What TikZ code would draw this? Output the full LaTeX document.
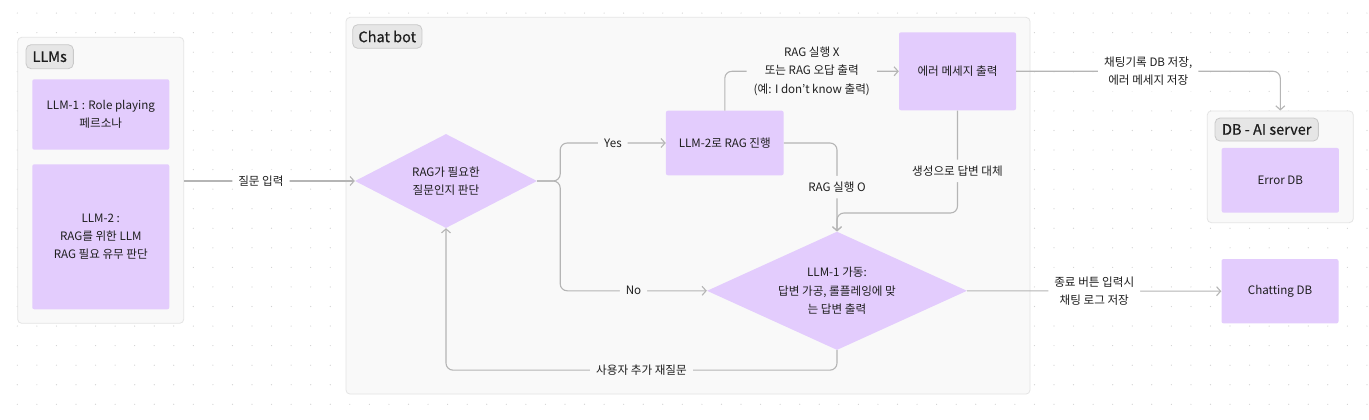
\documentclass[tikz,border=0pt]{standalone}
\usepackage{fontspec}
\setmainfont{Noto Sans CJK KR}
\newfontfamily\tagfont[FakeBold=0.5]{Noto Sans CJK KR}
\usetikzlibrary{shapes.geometric,arrows.meta}
\definecolor{lav}{HTML}{E3CCFD}
\definecolor{contbg}{HTML}{F9F9F9}
\definecolor{contbd}{HTML}{E4E4E4}
\definecolor{tagbg}{HTML}{E6E6E6}
\definecolor{tagbd}{HTML}{C9C9C9}
\definecolor{linec}{HTML}{B5B5B5}
\definecolor{txt}{HTML}{1E1E1E}
\definecolor{dotc}{HTML}{D0D0D0}
\begin{document}
\begin{tikzpicture}[x=1pt,y=-1pt,
  font=\fontsize{11.6}{18.3}\selectfont, text=txt,
  cont/.style={draw=contbd, fill=contbg, rounded corners=4pt, line width=0.8pt, inner sep=0},
  tagbox/.style={draw=tagbd, fill=tagbg, rounded corners=5pt, line width=0.8pt, inner sep=0, font=\tagfont\fontsize{14.5}{16}\selectfont},
  box/.style={fill=lav, rounded corners=2pt, inner sep=0, align=center},
  dia/.style={diamond, fill=lav, inner sep=0},
  conn/.style={draw=linec, line width=1.1pt, rounded corners=7pt, -{Straight Barb[length=4pt,width=9pt]}},
  lbl/.style={fill=contbg, inner sep=6pt, align=center, text=txt},
  lblw/.style={fill=white, inner sep=6pt, align=center, text=txt}]
\useasboundingbox (0,0) rectangle (1369,420);
\fill[white] (0,0) rectangle (1369,420);
% dot grid
\foreach \i in {0,...,69} {
  \foreach \j in {0,...,20} {
    \fill[dotc] (17.3+\i*19.56, 13.1+\j*19.56) circle (0.6pt);
  }
}
% containers
\node[cont, minimum width=166pt, minimum height=286pt] (llms) at (100.7,180.3) {};
\node[tagbox, minimum width=47.3pt, minimum height=24pt] (llmstag) at (49.7,56.7) {LLMs};
\node[box, minimum width=137pt, minimum height=70.4pt] (llm1) at (100.8,114.5) {LLM-1 : Role playing\\페르소나};
\node[box, minimum width=137pt, minimum height=145pt] (llm2) at (100.8,236.8) {LLM-2 :\\RAG를 위한 LLM\\RAG 필요 유무 판단};

\node[cont, minimum width=684pt, minimum height=376.7pt] (chat) at (688,205.7) {};
\node[tagbox, minimum width=69.3pt, minimum height=23.6pt] (chattag) at (387.3,36.5) {Chat bot};

\node[cont, minimum width=146pt, minimum height=111.7pt] (dbs) at (1280.3,166.8) {};
\node[tagbox, minimum width=103.3pt, minimum height=23pt] (dbstag) at (1266.7,129.5) {DB - AI server};
\node[box, minimum width=117.3pt, minimum height=64.7pt] (errdb) at (1280.3,180.3) {Error DB};

% flow nodes
\node[dia, minimum width=182pt, minimum height=94pt] (rag) at (446,181) {};
\node[align=center] (ragtxt) at (rag.center) {RAG가 필요한\\질문인지 판단};
\node[box, minimum width=117.7pt, minimum height=64.6pt] (ragbox) at (724.8,143) {LLM-2로 RAG 진행};
\node[box, minimum width=117pt, minimum height=78pt] (err) at (957.5,71.3) {에러 메세지 출력};
\node[dia, minimum width=260pt, minimum height=118.3pt] (llm1d) at (837,290.8) {};
\node[align=center] (llm1dtxt) at (llm1d.center) {LLM-1 가동:\\답변 가공, 롤플레잉에 맞\\는 답변 출력};
\node[box, minimum width=117pt, minimum height=64.3pt] (chatdb) at (1280,291.2) {Chatting DB};

% connectors
\draw[conn] (llms.east |- rag.west) -- node[lblw, pos=0.45] {질문 입력} (rag.west);
\draw[conn] (rag.east) -- ++(23,0) |- node[lbl, pos=0.75] {Yes} (ragbox.west);
\draw[conn] (rag.east) -- ++(23,0) |- node[lbl, pos=0.75] {No} (llm1d.west);
\draw[conn] (ragbox.north) |- node[lbl, pos=0.75, inner sep=7pt] {RAG 실행 X\\또는 RAG 오답 출력\\(예: I don't know 출력)} (err.west);
\draw[conn] (ragbox.east) -| node[lbl, pos=0.75] {RAG 실행 O} (llm1d.north);
\draw[conn] (err.south) -- node[lbl, pos=0.59] {생성으로 답변 대체} (err.south |- 0,213) -| (llm1d.north);
\draw[conn] (err.east) -| node[lblw, pos=0.25] {채팅기록 DB 저장,\\에러 메세지 저장} (dbs.north);
\draw[conn] (llm1d.east) -- node[lblw, pos=0.5] {종료 버튼 입력시\\채팅 로그 저장} (chatdb.west);
\draw[conn] (llm1d.south) -- ++(0,20) -| node[lbl, pos=0.25] {사용자 추가 재질문} (rag.south);
\end{tikzpicture}
\end{document}
